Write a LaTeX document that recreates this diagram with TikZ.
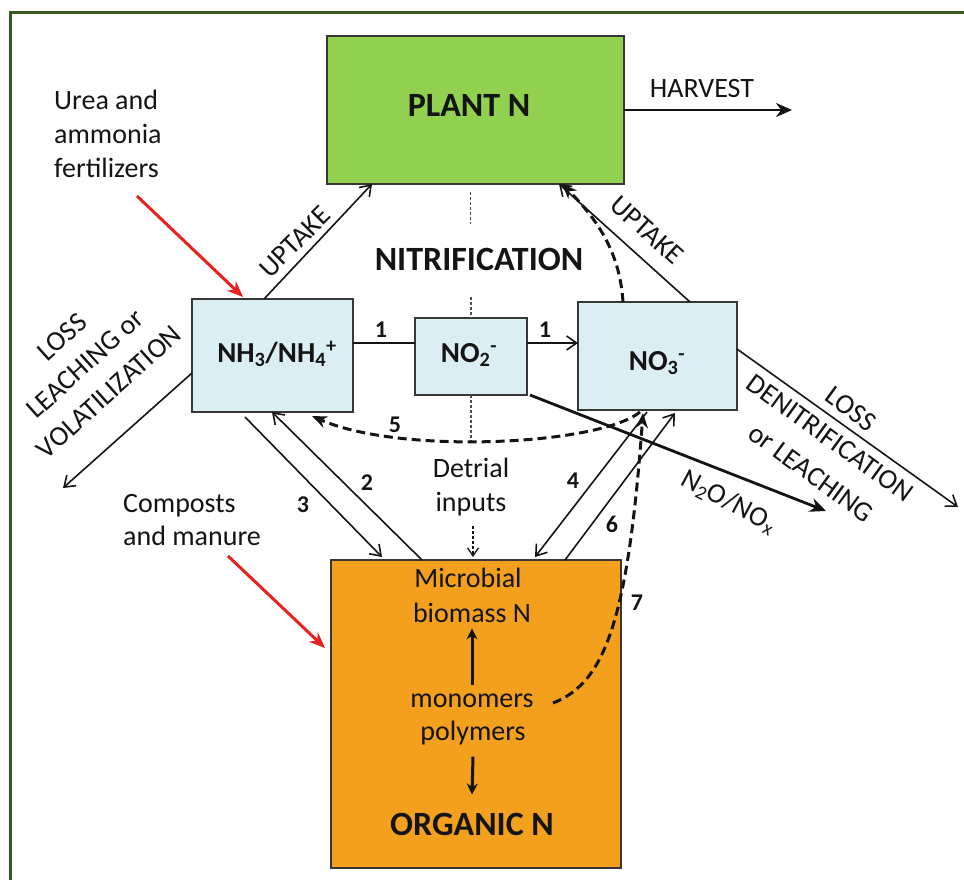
\documentclass[tikz,border=0pt]{standalone}
\usepackage{fontspec}
\setmainfont{Carlito}
\usetikzlibrary{arrows.meta,calc}
\definecolor{framec}{RGB}{55,90,30}
\definecolor{plantg}{RGB}{146,208,80}
\definecolor{lblue}{RGB}{219,238,244}
\definecolor{orgor}{RGB}{242,160,30}
\definecolor{redarr}{RGB}{232,32,30}
\definecolor{ink}{RGB}{20,20,20}
\begin{document}
\begin{tikzpicture}[x=1pt,y=-1pt,
  box/.style={draw=ink!85, line width=2pt, inner sep=0pt, outer sep=0pt, anchor=north west},
  lbl/.style={font=\fontsize{28}{33}\selectfont, text=ink, inner sep=0pt},
  bigl/.style={font=\bfseries\fontsize{34}{40}\selectfont, text=ink, inner sep=0pt},
  chem/.style={font=\bfseries\fontsize{29}{34}\selectfont, text=ink, inner sep=0pt},
  num/.style={font=\bfseries\fontsize{24}{28}\selectfont, text=ink, inner sep=0pt, anchor=base},
  thinar/.style={draw=ink, line width=1.6pt, -{Straight Barb[length=10pt,width=14pt,line width=1.6pt]}},
  plainln/.style={draw=ink, line width=1.6pt},
  dashar/.style={draw=ink, line width=3pt, dash pattern=on 9pt off 5pt, -{Stealth[length=15pt,width=12pt]}},
  thickar/.style={draw=ink, line width=2.8pt, -{Stealth[length=16pt,width=14pt]}},
  redar/.style={draw=redarr, line width=3pt, -{Stealth[length=16pt,width=13pt]}},
  vdash/.style={draw=ink!75, line width=1.2pt, dash pattern=on 3pt off 2pt}
]
\useasboundingbox (0,0) rectangle (964,880);
% frame
\draw[framec, line width=3pt] (10,880) -- (10,13) -- (964,13);

% boxes
\node[box, fill=plantg, minimum width=297pt, minimum height=148pt] (plant) at (327,36) {};
\node[box, fill=lblue, minimum width=161pt, minimum height=113pt] (nh3) at (192,299) {};
\node[box, fill=lblue, minimum width=112pt, minimum height=77pt] (no2) at (415,318) {};
\node[box, fill=lblue, minimum width=159pt, minimum height=108pt] (no3) at (578,302) {};
\node[box, fill=orgor, minimum width=290pt, minimum height=308pt] (org) at (331,560) {};

% box texts
\node[bigl, anchor=base] (plantlbl) at (469,117) {PLANT N};
\node[chem, anchor=base] (nh3lbl) at (277,362) {NH\textsubscript{3}/NH\textsubscript{4}\textsuperscript{+}};
\node[chem, anchor=base] (no2lbl) at (469,362) {NO\textsubscript{2}\textsuperscript{-}};
\node[chem, anchor=base] (no3lbl) at (657,370) {NO\textsubscript{3}\textsuperscript{-}};
\node[bigl, anchor=base] (orglbl) at (472,835) {ORGANIC N};
\node[lbl, anchor=base] (micro) at (468,587) {Microbial};
\node[lbl, anchor=base] (biom) at (472,622) {biomass N};
\node[lbl, anchor=base] (mono) at (472,707) {monomers};
\node[lbl, anchor=base] (poly) at (473,740) {polymers};
\node[bigl, anchor=base] (nitrif) at (479,270) {NITRIFICATION};

% free labels
\node[lbl, anchor=base] (harv) at (702,98) {HARVEST};
\node[lbl, anchor=base west] (urea1) at (54,110) {Urea and};
\node[lbl, anchor=base west] (urea2) at (54,144) {ammonia};
\node[lbl, anchor=base west] (urea3) at (54,178) {fertilizers};
\node[lbl, anchor=base west] (comp1) at (123,512) {Composts};
\node[lbl, anchor=base west] (comp2) at (123,545) {and manure};
\node[lbl, anchor=base] (detr1) at (471,477) {Detrial};
\node[lbl, anchor=base] (detr2) at (471,511) {inputs};
\node[lbl, rotate=45] (uptL) at (295,242) {UPTAKE};
\node[lbl, rotate=-42] (uptR) at (647,230) {UPTAKE};
\node[lbl, rotate=42] (lossL1) at (62,337) {LOSS};
\node[lbl, rotate=42] (lossL2) at (85,364) {LEACHING or};
\node[lbl, rotate=42] (lossL3) at (109,392) {VOLATILIZATION};
\node[lbl, rotate=-36] (lossR1) at (851,409) {LOSS};
\node[lbl, rotate=-36] (lossR2) at (830,438) {DENITRIFICATION};
\node[lbl, rotate=-36] (lossR3) at (811,473) {or LEACHING};
\node[lbl, rotate=-28] (n2o) at (729,502) {N\textsubscript{2}O/NO\textsubscript{x}};

% numbers
\node[num] (n1a) at (381,337) {1};
\node[num] (n1b) at (545,337) {1};
\node[num] (n5) at (395,432) {5};
\node[num] (n2) at (367,490) {2};
\node[num] (n3) at (303,512) {3};
\node[num] (n4) at (573,488) {4};
\node[num] (n6) at (612,532) {6};
\node[num] (n7) at (637,610) {7};

% free ends
\coordinate (harvEnd) at (792,110);
\coordinate (lossLEnd) at (63,488);
\coordinate (lossREnd) at (958,507);
\coordinate (n2oEnd) at (826,511);
\coordinate (red1s) at (137,196);
\coordinate (red2s) at (228,556);
\coordinate (c7) at (553,703);

% vertical dashed guide
\draw[vdash] ($(plant.south)+(-5,8)$) -- ($(plant.south)+(-5,40)$);
\draw[vdash] ($(no2.north)+(0,-21)$) -- (no2.north);
\draw[vdash] (no2.south) -- ($(no2.south)+(0,50)$);

% uptake
\draw[thinar] ($(nh3.north west)+(72,0)$) -- ($(plant.south west)+(45,0)$);
\draw[thinar] ($(no3.north west)+(112,0)$) -- ($(plant.south west)+(232,0)$);
\draw[dashar] ($(no3.north west)+(45,0)$) .. controls ($(no3.north west)+(42,-47)$) and ($(plant.south west)+(273,38)$) .. ($(plant.south west)+(235,0)$);

% harvest
\draw[thickar] (plant.east |- harvEnd) -- (harvEnd);

% nitrification
\draw[plainln] ($(nh3.north east)+(0,44)$) -- ($(no2.north west)+(0,25)$);
\draw[thinar] ($(no2.north east)+(0,25)$) -- ($(no3.north west)+(0,41)$);

% losses
\draw[thinar] ($(nh3.north west)+(0,74)$) -- (lossLEnd);
\draw[thinar] ($(no3.north east)+(0,47)$) -- (lossREnd);
\draw[thickar] ($(no2.south east)+(3,0)$) -- (n2oEnd);

% 2 and 3
\draw[thinar] ($(nh3.south west)+(53,5)$) -- ($(org.north west)+(51,-3)$);
\draw[thinar] ($(org.north west)+(91,0)$) -- ($(nh3.south west)+(80,0)$);

% 4 and 6
\draw[thinar] ($(no3.south west)+(69,2)$) -- ($(org.north west)+(204,-3)$);
\draw[thinar] ($(org.north west)+(234,0)$) -- ($(no3.south west)+(97,3)$);

% 5 dashed
\draw[dashar] ($(no3.south west)+(62,2)$) .. controls (600,445) and (400,455) .. ($(nh3.south east)+(-41,4)$);

% 7 dashed
\draw[dashar] (c7) .. controls (605,683) and (628,620) .. ($(no3.south west)+(65,3)$);

% detrial inputs
\draw[draw=ink, line width=1.3pt, dash pattern=on 3pt off 2pt, -{Straight Barb[length=8pt,width=11pt,line width=1.3pt]}] ($(detr2.south)+(2,10)$) -- ($(org.north west)+(142,-3)$);

% inside organic
\draw[draw=ink, line width=3pt, -{Stealth[length=11pt,width=11pt]}] ($(mono.north)+(0,-8)$) -- ($(biom.south)+(0,6)$);
\draw[draw=ink, line width=3pt, -{Stealth[length=11pt,width=11pt]}] ($(poly.south)+(0,12)$) -- ($(orglbl.north)+(0,-18)$);

% red fertilizer arrows
\draw[redar] (red1s) -- ($(nh3.north west)+(51,-2)$);
\draw[redar] (red2s) -- ($(org.north west)+(-6,88)$);
\end{tikzpicture}
\end{document}
